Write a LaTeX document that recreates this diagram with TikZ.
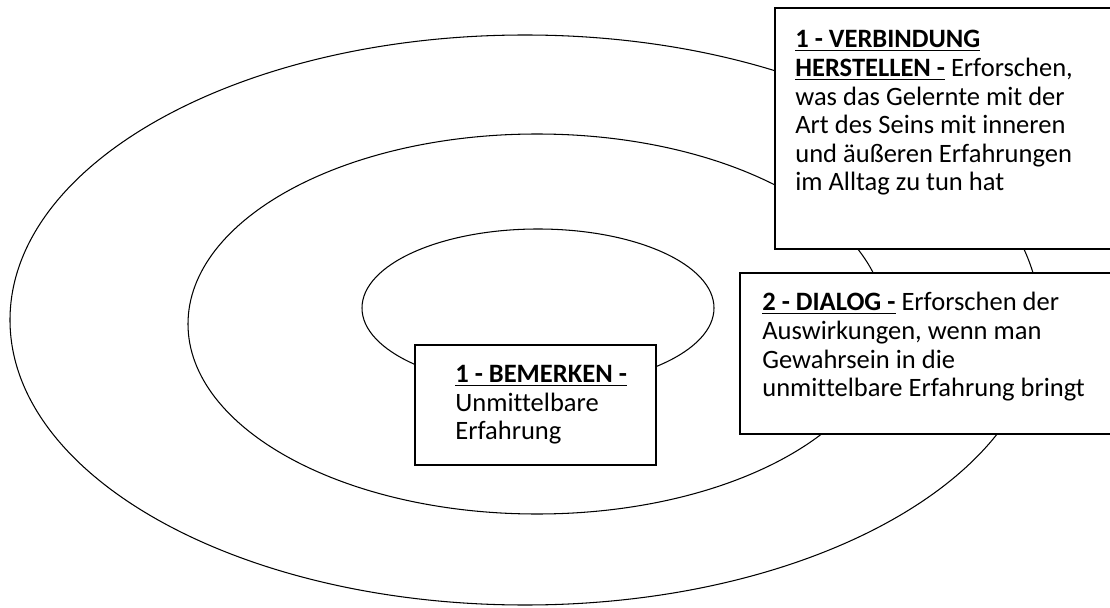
\documentclass[tikz,border=0pt]{standalone}
\usepackage{fontspec}
\setmainfont{Carlito}[Ligatures=CommonOff]
\usetikzlibrary{fit,backgrounds}

\tikzset{
  ring/.style={line width=0.6pt},
  frame/.style={draw,fill=white,line width=0.8pt,inner sep=0pt},
  boxtext/.style={align=left,text width=9cm,inner sep=0pt,anchor=north west,
    font=\fontsize{15.1}{16.3}\selectfont,
    execute at begin node={\spaceskip=0pt\xspaceskip=0pt\relax}}
}

\begin{document}
\begin{tikzpicture}[x=0.02cm,y=-0.02cm]
        \useasboundingbox (0,0) rectangle (1110,608);
        \clip (0,0) rectangle (1110,608);

        \node[frame,fit={(775,8) (1130,249)}] (verbBox) {};
        \node[frame,fit={(740,273) (1130,434)}] (dialogBox) {};
        \node[frame,fit={(415,345) (656,465)}] (bemerkBox) {};

        \node[boxtext] (verbText) at (795,30) {\underline{\textbf{1 - VERBINDUNG}}\\
            \underline{\textbf{HERSTELLEN -}} Erforschen,\\
            was das Gelernte mit der\\
            Art des Seins mit inneren\\
            und äußeren Erfahrungen\\
            im Alltag zu tun hat};
        \node[boxtext] (dialogText) at (762,292) {\underline{\textbf{2 - DIALOG -}} Erforschen der\\
            Auswirkungen, wenn man\\
            Gewahrsein in die\\
            unmittelbare Erfahrung bringt};
        \node[boxtext] (bemerkText) at (455,365) {\underline{\textbf{1 - BEMERKEN -}}\\
            Unmittelbare\\
            Erfahrung};

         \begin{scope}[on background layer]
             \draw[ring] (525,320) ellipse (515 and 285);
             \draw[ring] (537,324) ellipse (349 and 190);
             \draw[ring] (538,308) ellipse (176 and 79);
         \end{scope}
    \end{tikzpicture}
\end{document}
